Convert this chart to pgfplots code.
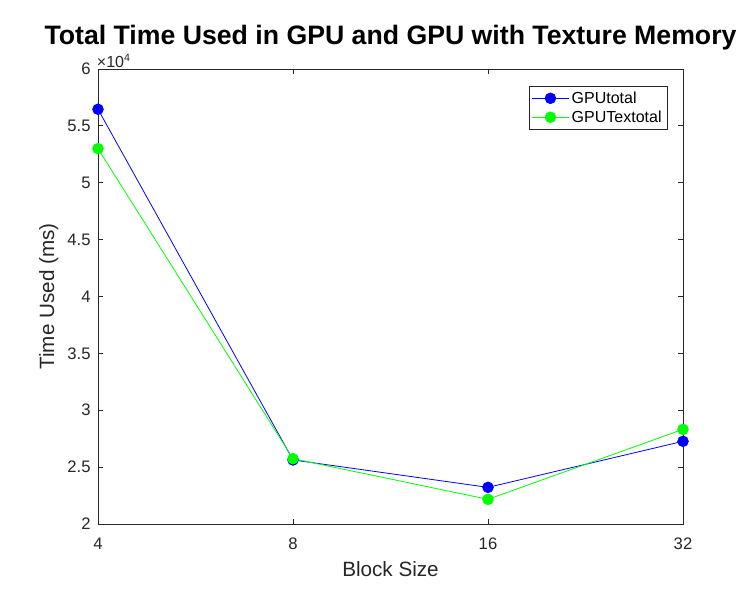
\documentclass[border=0pt]{standalone}
\usepackage{fontspec}
\setmainfont{Liberation Sans}
\usepackage{pgfplots}
\pgfplotsset{compat=1.18}
\definecolor{mblue}{RGB}{0,0,255}
\definecolor{mgreen}{RGB}{0,255,0}
\definecolor{mgray}{RGB}{38,38,38}
\begin{document}
\begin{tikzpicture}
\begin{axis}[
  scale only axis, width=438.75pt, height=341.25pt,
  xmin=0, xmax=3, ymin=20000, ymax=60000,
  xtick={0,1,2,3}, xticklabels={4,8,16,32},
  ytick={20000,25000,30000,35000,40000,45000,50000,55000,60000},
  scaled y ticks=base 10:-4,
  ytick scale label code/.code={×10\textsuperscript{4}},
  every y tick scale label/.style={at={(rel axis cs:0,1)}, anchor=south west, inner sep=1pt, yshift=0pt,
    font=\fontsize{12}{14}\selectfont, text=mgray},
  /pgf/number format/assume math mode=true,
  /pgf/number format/fixed,
  tick label style={font=\fontsize{12.5}{14}\selectfont, text=mgray},
  xticklabel style={yshift=-7pt},
  yticklabel style={xshift=-2pt},
  tick align=inside, major tick length=4pt,
  axis line style={line width=0.6pt, mgray}, every tick/.style={line width=0.6pt, mgray},
  xlabel={Block Size}, ylabel={Time Used (ms)},
  label style={font=\fontsize{15.5}{18}\selectfont, text=mgray},
  xlabel style={yshift=-2pt},
  title={\bfseries Total Time Used in GPU and GPU with Texture Memory},
  title style={font=\fontsize{20}{24}\selectfont, yshift=5pt},
  legend style={at={(0.973,0.963)}, anchor=north east, font=\fontsize{12}{14}\selectfont,
    draw=mgray, line width=0.5pt, inner sep=2pt, row sep=0pt},
  legend image code/.code={
    \draw[mark repeat=2,mark phase=2] plot coordinates {(0cm,0cm) (0.48cm,0cm) (0.96cm,0cm)};},
  legend cell align=left,
]
\addplot[color=mblue, line width=0.6pt, mark=*, mark size=4pt, mark options={fill=mblue, draw=mblue}]
  coordinates {(0,56460) (1,25630) (2,23220) (3,27270)};
\addplot[color=mgreen, line width=0.6pt, mark=*, mark size=4pt, mark options={fill=mgreen, draw=mgreen}]
  coordinates {(0,53000) (1,25740) (2,22170) (3,28320)};
\legend{GPUtotal,GPUTextotal}
\end{axis}
\path (current axis.south west) ++(-73.5pt,-50.25pt) rectangle ([xshift=54.75pt,yshift=51.75pt]current axis.north east);
\end{tikzpicture}
\end{document}
